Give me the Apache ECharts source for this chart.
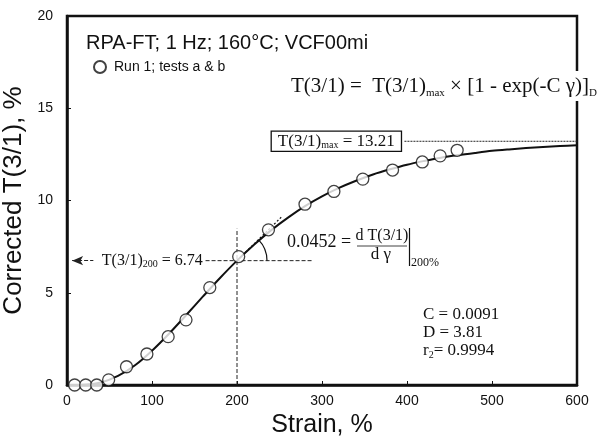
<!DOCTYPE html>
<html>
<head>
<meta charset="utf-8">
<script src="https://cdn.jsdelivr.net/npm/echarts@6/dist/echarts.min.js"></script>
<style>
  html, body { margin: 0; padding: 0; background: #fff; }
  #chart { width: 608px; height: 440px; }
</style>
</head>
<body>
<div id="chart"></div>
<script>
// Measured torque ratio vs strain, Run 1 (tests a & b)
const runStrain = [9, 22, 35, 49, 70, 94, 119, 140, 168, 202, 237, 280, 314, 348, 383, 418, 439, 459];
const runT = [0, 0, 0, 0.28, 0.99, 1.68, 2.62, 3.53, 5.28, 6.96, 8.41, 9.8, 10.49, 11.16, 11.65, 12.09, 12.42, 12.72];

// Fitted curve, sampled along strain
const fitStrain = [0, 20, 40, 60, 80, 100, 120, 140, 160, 180, 200, 220, 240, 260, 280, 300,
  320, 340, 360, 380, 400, 420, 440, 460, 480, 500, 520, 540, 560, 580, 600];
const fitT = [0, 0.01, 0.14, 0.49, 1.07, 1.86, 2.78, 3.78, 4.80, 5.80, 6.74, 7.60, 8.38, 9.07, 9.69, 10.22,
  10.68, 11.07, 11.41, 11.69, 11.94, 12.14, 12.32, 12.46, 12.58, 12.69, 12.77, 12.84, 12.90, 12.95, 13.00];

// Axis ticks
const xTicks = [0, 100, 200, 300, 400, 500, 600];
const yTicks = [0, 5, 10, 15, 20];

// Fit parameters and reference values
const T_MAX = 13.21;
const REF_STRAIN = 200;
const T_REF = 6.74;
const SLOPE = 0.0452;
const C_FIT = '0.0091';
const D_FIT = '3.81';
const R2_FIT = '0.9994';

const SANS = '"Liberation Sans", Arial, Helvetica, sans-serif';
const SERIF = '"Liberation Serif", "Times New Roman", Times, serif';
const INK = '#111';

const chart = echarts.init(document.getElementById('chart'), null, { renderer: 'canvas' });

const zip = (a, b) => a.map((v, i) => [v, b[i]]);
const guide = { color: '#222', width: 1, type: [4, 2] };

chart.setOption({
  animation: false,
  backgroundColor: '#fff',
  title: {
    text: 'RPA-FT; 1 Hz; 160°C; VCF00mi',
    left: 86, top: 33, padding: 0,
    textStyle: { fontFamily: SANS, fontSize: 20, fontWeight: 'normal', color: INK }
  },
  legend: {
    data: ['Run 1; tests a & b'],
    left: 93, top: 60, padding: 0,
    icon: 'circle', itemWidth: 12, itemHeight: 12,
    textStyle: { fontFamily: SANS, fontSize: 14, color: INK, padding: [0, 0, 0, 3] }
  },
  grid: {
    left: 67, right: 31, top: 16, bottom: 55,
    outerBoundsMode: 'none', containLabel: false,
    show: true, borderColor: INK, borderWidth: 2.5, backgroundColor: 'transparent'
  },
  xAxis: {
    type: 'value',
    min: xTicks[0], max: xTicks[xTicks.length - 1], interval: xTicks[1] - xTicks[0],
    name: 'Strain, %', nameLocation: 'middle', nameGap: 28,
    nameTextStyle: { fontFamily: SANS, fontSize: 25, color: INK },
    axisLine: { lineStyle: { color: INK, width: 2.5 } },
    axisTick: { inside: true, length: 4, lineStyle: { color: INK, width: 1 } },
    axisLabel: { fontFamily: SANS, fontSize: 14, color: INK, margin: 9 },
    splitLine: { show: false }
  },
  yAxis: {
    type: 'value',
    min: yTicks[0], max: yTicks[yTicks.length - 1], interval: yTicks[1] - yTicks[0],
    name: 'Corrected T(3/1), %', nameLocation: 'middle', nameGap: 36,
    nameTextStyle: { fontFamily: SANS, fontSize: 26, color: INK },
    axisLine: { lineStyle: { color: INK, width: 2.5 } },
    axisTick: { inside: true, length: 4, lineStyle: { color: INK, width: 1 } },
    axisLabel: { fontFamily: SANS, fontSize: 14, color: INK, margin: 14 },
    splitLine: { show: false }
  },
  series: [
    {
      name: 'fit', type: 'line', data: zip(fitStrain, fitT),
      smooth: 0.3, showSymbol: false, symbol: 'none',
      lineStyle: { color: INK, width: 2 }, z: 3, silent: true
    },
    {
      name: 'Run 1; tests a & b', type: 'scatter', data: zip(runStrain, runT),
      symbol: 'circle', symbolSize: 12, clip: false,
      itemStyle: { color: '#fff', borderColor: INK, borderWidth: 1.3 }, z: 5
    },
    {
      name: 'refV', type: 'line', data: [[REF_STRAIN, 0], [REF_STRAIN, 8.47]],
      symbol: 'none', lineStyle: guide, z: 2, silent: true
    },
    {
      name: 'refH', type: 'line', data: [[163, T_REF], [290, T_REF]],
      symbol: 'none', lineStyle: guide, z: 2, silent: true,
      markLine: {
        silent: true, symbol: ['arrow', 'none'], symbolSize: [7, 11],
        label: { show: false }, lineStyle: { color: '#222', width: 1, type: [4, 2] },
        data: [[{ coord: [6, T_REF] }, { coord: [31, T_REF] }]]
      }
    },
    {
      name: 'tangent', type: 'line',
      data: [[REF_STRAIN, T_REF], [252, T_REF + SLOPE * (252 - REF_STRAIN)]],
      symbol: 'none', lineStyle: { color: INK, width: 1.2, type: [2, 2] }, z: 4, silent: true
    },
    {
      name: 'maxLine', type: 'line', data: [[397, T_MAX], [627, T_MAX]], clip: false,
      symbol: 'none', lineStyle: { color: '#222', width: 1, type: [2, 1] }, z: 2, silent: true
    }
  ]
});

const P = (x, y) => chart.convertToPixel({ gridIndex: 0 }, [x, y]);
const ref = P(REF_STRAIN, T_REF);
const tanEnd = P(252, T_REF + SLOPE * (252 - REF_STRAIN));
const tanAngle = Math.atan2(tanEnd[1] - ref[1], tanEnd[0] - ref[0]);
const boxAnchor = P(241, T_MAX);
const refLabel = P(41, T_REF);

const serif = (size) => ({ fontFamily: SERIF, fontSize: size, fill: INK });
const sub = (size, lh) => ({ fontFamily: SERIF, fontSize: size, fill: INK, verticalAlign: 'bottom', lineHeight: lh });

chart.setOption({
  graphic: [
    {
      // fit equation, masking the frame where it crosses
      type: 'text', x: 291, y: 86, z: 20,
      style: {
        text: '{n|T(3/1) =  T(3/1)}{s|max}{n| × [1 - exp(-C γ)]}{s|D}',
        verticalAlign: 'middle', backgroundColor: '#fff', padding: [2, 0, 2, 0],
        rich: { n: Object.assign(serif(21), { lineHeight: 26 }), s: sub(11, 11) }
      }
    },
    {
      type: 'text', x: boxAnchor[0], y: boxAnchor[1], z: 20,
      style: {
        text: '{n|T(3/1)}{s|max}{n| = 13.21}',
        verticalAlign: 'middle', backgroundColor: '#fff',
        borderColor: INK, borderWidth: 1.3, padding: [0, 6, 0, 6],
        rich: { n: Object.assign(serif(17), { lineHeight: 19 }), s: sub(10, 10) }
      }
    },
    {
      type: 'text', x: refLabel[0], y: refLabel[1], z: 20,
      style: {
        text: '{n|T(3/1)}{s|200}{n| = 6.74}',
        verticalAlign: 'middle',
        rich: { n: Object.assign(serif(16), { lineHeight: 18 }), s: sub(10, 10) }
      }
    },
    {
      type: 'arc', z: 10, silent: true,
      shape: { cx: ref[0], cy: ref[1], r: 30, startAngle: tanAngle, endAngle: 0, clockwise: true },
      style: { stroke: INK, lineWidth: 1.2, fill: null }
    },
    {
      type: 'text', x: 287, y: 242, z: 20,
      style: { text: '0.0452 =', font: '18px ' + SERIF, fill: INK, verticalAlign: 'middle' }
    },
    {
      type: 'text', x: 382, y: 236, z: 20,
      style: {
        text: '{n|d T(3/1)}', align: 'center', verticalAlign: 'middle',
        rich: { n: serif(16) }
      }
    },
    {
      type: 'line', z: 20, silent: true,
      shape: { x1: 357, y1: 246, x2: 407, y2: 246 },
      style: { stroke: INK, lineWidth: 0.8 }
    },
    {
      type: 'text', x: 381, y: 255, z: 20,
      style: { text: 'd γ', font: '17px ' + SERIF, fill: INK, align: 'center', verticalAlign: 'middle' }
    },
    {
      type: 'line', z: 20, silent: true,
      shape: { x1: 409.5, y1: 228, x2: 409.5, y2: 266 },
      style: { stroke: INK, lineWidth: 1.2 }
    },
    {
      type: 'text', x: 411, y: 263, z: 20,
      style: { text: '200%', font: '12px ' + SERIF, fill: INK, verticalAlign: 'middle' }
    },
    {
      type: 'text', x: 423, y: 306, z: 20,
      style: {
        text: '{n|C = ' + C_FIT + '}\n{n|D = ' + D_FIT + '}\n{n|r}{s|2}{n|= ' + R2_FIT + '}',
        rich: { n: Object.assign(serif(17), { lineHeight: 18 }), s: sub(10, 10) }
      }
    }
  ]
});
</script>
</body>
</html>
